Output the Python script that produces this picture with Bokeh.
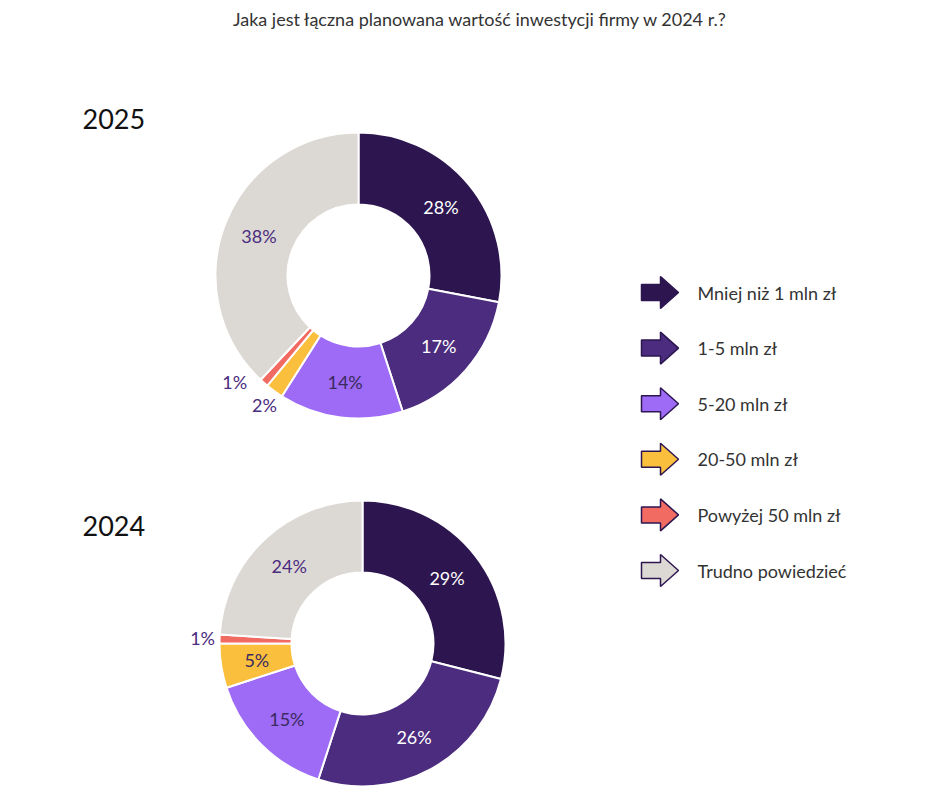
import math
from bokeh.plotting import figure
from bokeh.models import Range1d
from bokeh.core.properties import value
from bokeh.embed import file_html
from bokeh.resources import INLINE

title = "Jaka jest łączna planowana wartość inwestycji firmy w 2024 r.?"
categories = ["Mniej niż 1 mln zł", "1-5 mln zł", "5-20 mln zł", "20-50 mln zł", "Powyżej 50 mln zł", "Trudno powiedzieć"]
colors = ["#2d1650", "#4b2c7e", "#9d6bf5", "#fbbf3e", "#f26b63", "#dcd9d5"]
label_colors = ["white", "white", "#3a2a5e", "#3a2a5e", "#3a2a5e", "#4b2c7e"]
years = ["2025", "2024"]
values_2025 = [28, 17, 14, 2, 1, 38]
values_2024 = [29, 26, 15, 5, 1, 24]

W, H = 932, 794
p = figure(width=W, height=H, output_backend="svg", toolbar_location=None,
           x_range=Range1d(0, W), y_range=Range1d(0, H), min_border=0)
p.axis.visible = False
p.grid.visible = False
p.outline_line_color = None
FONT = value("Lato")

def Y(py):
    return H - py

p.text([480], [Y(18)], text=[title], text_align="center", text_baseline="middle",
       text_font=FONT, text_font_size="18px", text_color="#333333")

donuts = [(values_2025, 358, 275, 118, {4: (163, 8)}), (values_2024, 362, 643, 525, {})]
R_OUT, R_IN = 143, 71
for (vals, cx, cy, ylab, tweaks), yr in zip(donuts, years):
    p.text([82], [Y(ylab)], text=[yr], text_align="left", text_baseline="middle",
           text_font=FONT, text_font_size="27px", text_color="#111111")
    total = sum(vals)
    cum = 0
    for i, v in enumerate(vals):
        a0 = math.pi / 2 - 2 * math.pi * cum / total
        a1 = math.pi / 2 - 2 * math.pi * (cum + v) / total
        p.annular_wedge(x=[cx], y=[Y(cy)], inner_radius=R_IN, outer_radius=R_OUT,
                        start_angle=a0, end_angle=a1, direction="clock",
                        fill_color=colors[i], line_color="white", line_width=2)
        mid = (cum + v / 2) / total * 360
        if v >= 5:
            r, col = 107, label_colors[i]
        else:
            r, col = 160, "#4b2c7e"
            if i in tweaks:
                r, d = tweaks[i]
                mid += d
        th = math.radians(mid)
        lx = cx + r * math.sin(th)
        ly = cy - r * math.cos(th)
        p.text([lx], [Y(ly)], text=[f"{v}%"], text_align="center", text_baseline="middle",
               text_font=FONT, text_font_size="18px", text_color=col)
        cum += v

# legend arrows
for i, cat in enumerate(categories):
    yc = 292 + i * 55.6
    xs = [641, 660, 660, 678, 660, 660, 641]
    ys = [yc - 8, yc - 8, yc - 16, yc, yc + 16, yc + 8, yc + 8]
    p.patch(xs, [Y(v) for v in ys], fill_color=colors[i], line_color="#2d1650", line_width=1.5)
    p.text([697], [Y(yc)], text=[cat], text_align="left", text_baseline="middle",
           text_font=FONT, text_font_size="18px", text_color="#333333")

open("out.html", "w").write(file_html(p, INLINE))
